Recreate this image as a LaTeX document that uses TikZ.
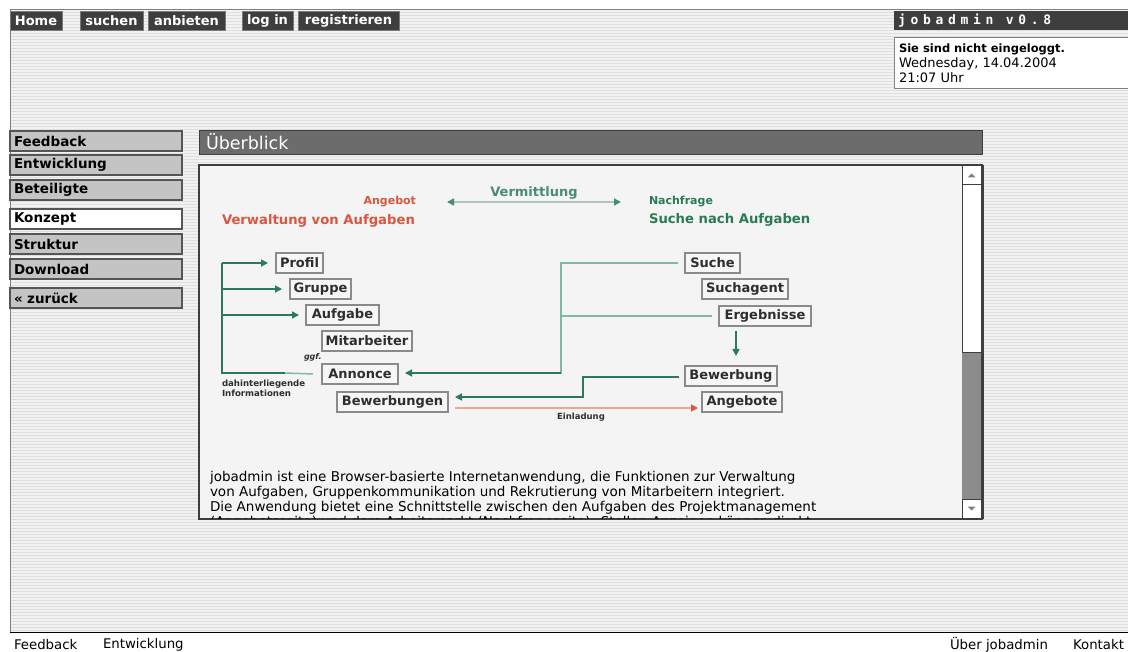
\documentclass[tikz,border=0pt]{standalone}
\usepackage{fontspec}
\setmainfont{DejaVu Sans}
\newfontfamily\monof[LetterSpace=36]{DejaVu Sans Mono}
\newfontfamily\bodyf{DejaVu Sans}
\usetikzlibrary{arrows.meta,calc}
\newcommand\pxs[1]{\fontsize{#1}{#1}\selectfont}
\definecolor{bgfill}{HTML}{F2F2F2}
\definecolor{bgline}{HTML}{DEDEDE}
\definecolor{navdark}{HTML}{3E3E3E}
\definecolor{navborder}{HTML}{7A7A7A}
\definecolor{menufill}{HTML}{C4C4C4}
\definecolor{menuborder}{HTML}{555555}
\definecolor{hdrfill}{HTML}{6C6C6C}
\definecolor{panelfill}{HTML}{F4F4F4}
\definecolor{boxfill}{HTML}{F6F6F6}
\definecolor{boxborder}{HTML}{8A8A8A}
\definecolor{txtdark}{HTML}{2E2E2E}
\definecolor{redt}{HTML}{DA5640}
\definecolor{redl}{HTML}{F2A393}
\definecolor{greent}{HTML}{2A7A55}
\definecolor{tealt}{HTML}{4A8A78}
\definecolor{dkgreen}{HTML}{2B7A58}
\definecolor{ltteal}{HTML}{80B9A3}
\definecolor{grayteal}{HTML}{AFC3BC}
\definecolor{track}{HTML}{8C8C8C}
\tikzset{
  navbtn/.style={draw=navborder, fill=navdark, text=white, font=\bfseries\pxs{13}, minimum height=19, anchor=north west},
  menubtn/.style={draw=menuborder, line width=1.2, fill=menufill, text=black, font=\bfseries\pxs{13.5}, minimum height=20, text width=164, inner xsep=4, align=left, anchor=north west},
  dbox/.style={draw=boxborder, line width=1.5, fill=boxfill, text=txtdark, font=\bfseries\pxs{13}, minimum height=20, anchor=west},
  small/.style={text=txtdark, font=\bfseries\pxs{8.5}},
  darr/.style={dkgreen, line width=1.5, -{Triangle[length=7,width=7]}},
  larr/.style={ltteal, line width=1.5},
  foot/.style={font=\bodyf\pxs{13.3}},
}
\begin{document}
\begin{tikzpicture}[x=1pt,y=-1pt, every node/.style={inner sep=0pt, outer sep=0pt}]
\useasboundingbox (0,0) rectangle (1128,652);
\fill[white] (0,0) rectangle (1128,652);
\fill[bgfill] (10,10) rectangle (1128,632);
\foreach \y in {12.5,15.5,...,631} \draw[bgline, line width=1] (10,\y) -- (1128,\y);
\draw[gray, line width=1] (10,632) -- (10,10) -- (1128,10);
\draw[black, line width=1.5] (10,632.5) -- (1128,632.5);

% top navigation
\node[navbtn, minimum width=52] (home) at (10,11) {Home};
\node[navbtn, minimum width=63] (suchen) at (80,11) {suchen};
\node[navbtn, minimum width=77] (anbieten) at (148,11) {anbieten};
\node[navbtn, minimum width=51] (login) at (242,11) {log in};
\node[navbtn, minimum width=101] (reg) at (298,11) {registrieren};

\node[fill=navdark, minimum width=240, minimum height=19, anchor=north west] (brand) at (894,11) {};
\node[text=white, font=\monof\bfseries\pxs{13}, anchor=west] (brandtxt) at (898,21) {jobadmin v0.8};
\node[draw=gray, line width=1, fill=white, minimum width=240, minimum height=51, anchor=north west] (info) at (894,38) {};
\node[anchor=west, font=\bfseries\pxs{11.5}] (info1) at (899,49) {Sie sind nicht eingeloggt.};
\node[anchor=west, font=\pxs{13}] (info2) at (899,64) {Wednesday, 14.04.2004};
\node[anchor=west, font=\pxs{13}] (info3) at (899,78) {21:07 Uhr};

% left menu
\node[menubtn] (m1) at (10,131) {Feedback};
\node[menubtn] (m2) at (10,155) {Entwicklung};
\node[menubtn] (m3) at (10,180) {Beteiligte};
\node[menubtn, fill=white] (m4) at (10,209) {Konzept};
\node[menubtn] (m5) at (10,234) {Struktur};
\node[menubtn] (m6) at (10,259) {Download};
\node[menubtn] (m7) at (10,288) {\guillemotleft{} zurück};

% header
\node[fill=hdrfill, draw=navdark, minimum width=783, minimum height=24, text width=769, inner xsep=7, align=left, text=white, font=\pxs{17.5}, anchor=north west] (hdr) at (199,130) {Überblick};

% panel
\node[fill=panelfill, draw=navdark, line width=1.5, minimum width=783, minimum height=354, anchor=north west] (panel) at (199,165) {};
% scrollbar
\fill[track] (962,166) rectangle (981,518);
\node[fill=white, draw=navdark, line width=1, minimum width=19, minimum height=168, anchor=north west] (thumb) at (962,185) {};
\node[fill=white, draw=navdark, line width=1, minimum width=19, minimum height=19, anchor=north west] (up) at (962,166) {};
\node[fill=white, draw=navdark, line width=1, minimum width=19, minimum height=19, anchor=north west] (down) at (962,499) {};
\fill[gray] ($(up.center)+(-4,2)$) -- ($(up.center)+(4,2)$) -- ($(up.center)+(0,-2)$) -- cycle;
\fill[gray] ($(down.center)+(-4,-2)$) -- ($(down.center)+(4,-2)$) -- ($(down.center)+(0,2)$) -- cycle;
\draw[navdark, line width=1.5] (983,165) -- (983,519);

% headings
\node[anchor=east, text=redt, font=\bfseries\pxs{11}] (angebot) at (416,202) {Angebot};
\node[anchor=west, text=redt, font=\bfseries\pxs{13.2}] (verw) at (222,221) {Verwaltung von Aufgaben};
\node[text=tealt, font=\bfseries\pxs{13}] (verm) at (534,193) {Vermittlung};
\node[anchor=west, text=greent, font=\bfseries\pxs{11}] (nachf) at (649,202) {Nachfrage};
\node[anchor=west, text=greent, font=\bfseries\pxs{13.2}] (suchenach) at (649,220) {Suche nach Aufgaben};
\coordinate (vl) at (447,202);
\coordinate (vr) at (621,202);
\draw[grayteal, line width=1.5, {Triangle[length=7,width=7,color=tealt]}-{Triangle[length=7,width=7,color=tealt]}] (vl) -- (vr);

% boxes
\node[dbox, minimum width=47] (profil) at (276,263) {Profil};
\node[dbox, minimum width=61] (gruppe) at (290,289) {Gruppe};
\node[dbox, minimum width=73] (aufgabe) at (306,315) {Aufgabe};
\node[dbox, minimum width=90] (mitarb) at (322,341) {Mitarbeiter};
\node[dbox, minimum width=76] (annonce) at (322,374) {Annonce};
\node[dbox, minimum width=111] (bewerbungen) at (337,402) {Bewerbungen};
\node[dbox, minimum width=55] (suche) at (685,263) {Suche};
\node[dbox, minimum width=86] (suchagent) at (702,289) {Suchagent};
\node[dbox, minimum width=92] (ergeb) at (719,316) {Ergebnisse};
\node[dbox, minimum width=92] (bewerbung) at (685,376) {Bewerbung};
\node[dbox, minimum width=80] (angebote) at (702,402) {Angebote};

\node[small, font=\bfseries\itshape\pxs{8}, anchor=west] (ggf) at (304,357) {ggf.};
\node[small, anchor=north west, align=left, font=\bfseries\pxs{8.6}] (dahinter) at (222,380) {dahinterliegende\\[1pt]Informationen};

% left bracket
\coordinate (lb) at (222,373);
\draw[ltteal, line width=1.5] ($(annonce.west)+(-9,0)$) -- ($(lb)+(63,0)$);
\draw[dkgreen, line width=1.5] ($(lb)+(63,0)$) -- (lb) -- (lb |- profil.west);
\draw[darr, shorten >=8] (lb |- profil.west) -- (profil.west);
\draw[darr, shorten >=8] (lb |- gruppe.west) -- (gruppe.west);
\draw[darr, shorten >=7] (lb |- aufgabe.west) -- (aufgabe.west);

% right bracket
\coordinate (rb) at (561,373);
\draw[larr] ($(suche.west)+(-7,0)$) -- (rb |- suche.west) -- (rb) -- ($(annonce.east)+(14,-1)$);
\draw[larr] ($(ergeb.west)+(-7,0)$) -- (rb |- ergeb.west);
\draw[dkgreen, line width=1.5, -{Triangle[length=7,width=7]}] (rb) -- ($(annonce.east)+(7,-1)$);
\draw[dkgreen, line width=1.5] ($(annonce.east)+(14,-1)$) -- ($(annonce.east)+(7.5,-1)$);

% Ergebnisse down
\draw[darr] ($(ergeb.south west)+(17,5)$) -- ($(ergeb.south west)+(17,30)$);

% Bewerbung to Bewerbungen
\coordinate (bk) at (583,377);
\draw[darr] ($(bewerbung.west)+(-6,1)$) -- (bk) -- (bk |- 0,397) -- ($(bewerbungen.east)+(7,-5)$);

% Einladung
\draw[redl, line width=1.5, -{Triangle[length=7,width=7,color=redt]}] ($(bewerbungen.east)+(7,6)$) -- ($(angebote.west)+(-4,6)$);
\node[small] (einl) at (581,417) {Einladung};

% body text
\begin{scope}
\clip (200,166) rectangle (961,518);
\node[anchor=north west, align=left, font=\bodyf\pxs{13.5}, text=black] (body) at (210,471) {jobadmin ist eine Browser-basierte Internetanwendung, die Funktionen zur Verwaltung\\[1.5pt]von Aufgaben, Gruppenkommunikation und Rekrutierung von Mitarbeitern integriert.\\[1.5pt]Die Anwendung bietet eine Schnittstelle zwischen den Aufgaben des Projektmanagement\\[1.5pt](Angebotsseite) und dem Arbeitsmarkt (Nachfrageseite). Stellen-Anzeigen können direkt};
\end{scope}

% footer
\node[anchor=west, foot] (f1) at (14,645) {Feedback};
\node[anchor=west, foot] (f2) at (103,645) {Entwicklung};
\node[anchor=east, foot] (f3) at (1048,645) {Über jobadmin};
\node[anchor=east, foot] (f4) at (1124,645) {Kontakt};
\end{tikzpicture}
\end{document}
